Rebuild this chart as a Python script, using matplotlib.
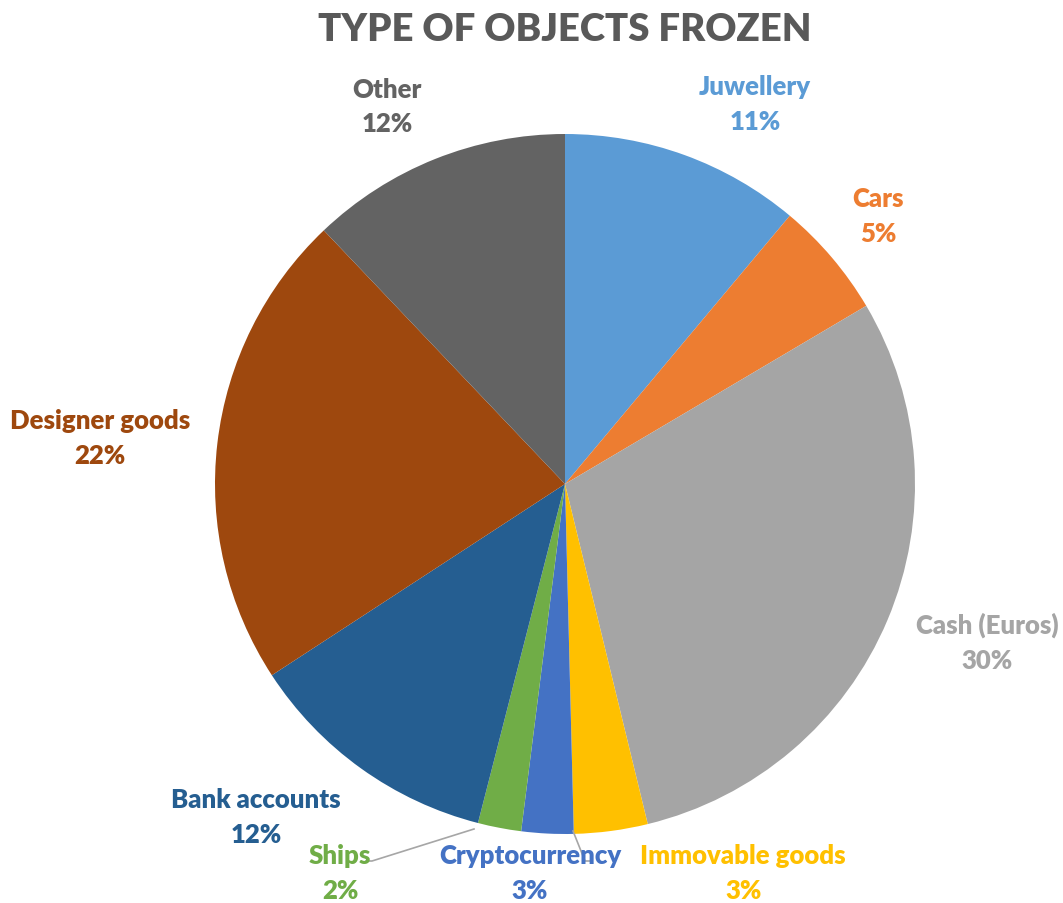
import matplotlib
matplotlib.use("Agg")
import matplotlib.pyplot as plt

categories = ["Juwellery", "Cars", "Cash (Euros)", "Immovable goods", "Cryptocurrency",
              "Ships", "Bank accounts", "Designer goods", "Other"]
values = [11.1, 5.4, 29.7, 3.4, 2.4, 2.0, 11.8, 22.1, 12.1]
pct_labels = ["11%", "5%", "30%", "3%", "3%", "2%", "12%", "22%", "12%"]
colors = ["#5B9BD5", "#ED7D31", "#A5A5A5", "#FFC000", "#4472C4",
          "#70AD47", "#255E91", "#9E480E", "#636363"]

# label centre positions (data units, radius = 1)
label_pos = [(0.543, 1.086), (0.894, 0.766), (1.206, -0.451), (0.509, -1.109),
             (-0.10, -1.109), (-0.643, -1.109), (-0.883, -0.951), (-1.329, 0.134),
             (-0.509, 1.08)]

plt.rcParams['font.family'] = ['Lato', 'DejaVu Sans']

W, H = 1063, 904
R = 350.0
cx, cy = 565, 485
fig = plt.figure(figsize=(W / 100, H / 100), dpi=100)
ax = fig.add_axes([0, 0, 1, 1])
ax.pie(values, colors=colors, startangle=90, counterclock=False, radius=1.0,
       center=(0, 0), wedgeprops=dict(linewidth=0, edgecolor="none"))
ax.set_xlim(-cx / R, (W - cx) / R)
ax.set_ylim(-(H - cy) / R, cy / R)
ax.set_aspect("auto")
ax.axis("off")

for name, pct, col, (lx, ly) in zip(categories, pct_labels, colors, label_pos):
    ax.text(lx, ly, f"{name}\n{pct}", color=col, fontsize=18.5, fontweight="heavy",
            ha="center", va="center", linespacing=1.55)

def px(x, y):
    return ((x - cx) / R, (cy - y) / R)

# leader lines
for pts in [[(474, 830), (372, 862), (366, 862)],
            [(573, 832), (585, 862), (591, 862)]]:
    xs, ys = zip(*[px(*p) for p in pts])
    ax.plot(xs, ys, color="#A6A6A6", linewidth=1.2)

fig.text(565 / W, 1 - 30 / H, "TYPE OF OBJECTS FROZEN", ha="center", va="center",
         fontsize=27.5, fontweight="heavy", color="#595959")

fig.savefig("out.png", dpi=100)
